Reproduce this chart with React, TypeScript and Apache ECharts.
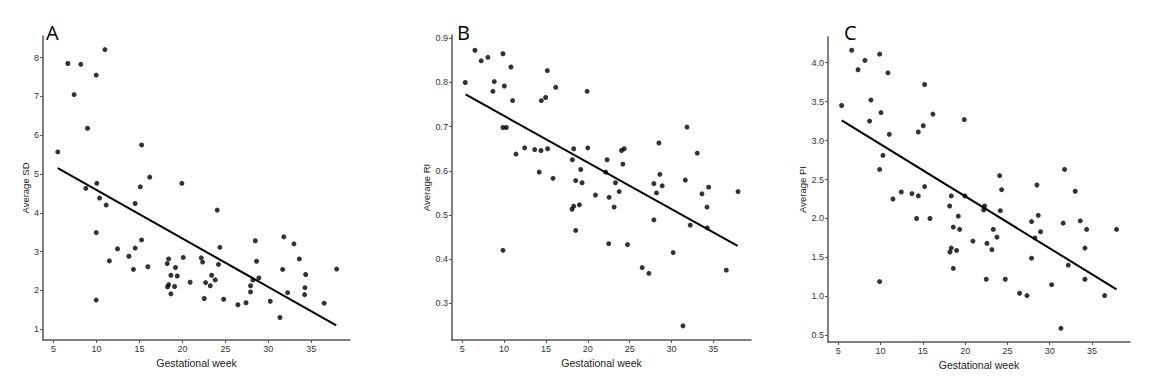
import React, { useEffect, useRef } from "react";
import * as echarts from "echarts";

// Panel A: Average SD vs gestational week
const sdPoints: number[][] = [
  [5.5, 5.57], [6.67, 7.85], [7.4, 7.05], [8.18, 7.83], [8.96, 6.18], [8.76, 4.63],
  [9.97, 7.55], [10.04, 4.76], [9.97, 3.49], [9.97, 1.75], [10.36, 4.38], [10.98, 8.21],
  [11.13, 4.2], [11.5, 2.76], [12.45, 3.07], [13.77, 2.88], [14.3, 2.54], [14.5, 3.09],
  [14.5, 4.24], [15.1, 4.67], [15.25, 5.75], [15.25, 3.3], [15.98, 2.61], [16.2, 4.92],
  [18.23, 2.69], [18.4, 2.81], [18.27, 2.09], [18.4, 2.15], [18.66, 2.39], [18.66, 1.91],
  [19.2, 2.59], [19.09, 2.1], [19.4, 2.37], [19.94, 4.76], [20.1, 2.85], [20.9, 2.21],
  [22.19, 2.84], [22.35, 2.73], [22.54, 1.79], [22.7, 2.2], [23.24, 2.12], [23.4, 2.39],
  [23.82, 2.27], [24.05, 4.07], [24.2, 2.67], [24.36, 3.11], [24.8, 1.77], [26.46, 1.63],
  [27.4, 1.68], [27.93, 1.96], [27.93, 2.12], [28.2, 2.27], [28.48, 3.28], [28.63, 2.75],
  [28.9, 2.32], [30.22, 1.72], [31.35, 1.3], [31.66, 2.54], [31.8, 3.38], [32.24, 1.94],
  [32.98, 3.2], [33.6, 2.81], [34.22, 1.89], [34.26, 2.07], [34.34, 2.41], [36.5, 1.67],
  [37.95, 2.55],
];
const sdFit: number[][] = [[5.5, 5.15], [37.9, 1.1]];

// Panel B: Average RI vs gestational week
const riPoints: number[][] = [
  [5.36, 0.8], [6.52, 0.873], [7.27, 0.849], [8.07, 0.857], [8.67, 0.78], [8.83, 0.802],
  [9.87, 0.865], [9.87, 0.698], [9.87, 0.42], [10.03, 0.792], [10.27, 0.698], [10.82, 0.835],
  [11.02, 0.759], [11.42, 0.638], [12.46, 0.652], [13.66, 0.648], [14.2, 0.597], [14.41, 0.646],
  [14.45, 0.759], [14.97, 0.766], [15.17, 0.827], [15.2, 0.65], [15.85, 0.583], [16.17, 0.789],
  [18.16, 0.625], [18.12, 0.513], [18.32, 0.52], [18.32, 0.65], [18.56, 0.465], [18.56, 0.578],
  [19.0, 0.523], [19.16, 0.603], [19.32, 0.573], [19.92, 0.78], [20.0, 0.652], [20.92, 0.545],
  [22.31, 0.625], [22.15, 0.597], [22.5, 0.435], [22.55, 0.54], [23.15, 0.518], [23.31, 0.573],
  [23.75, 0.553], [24.03, 0.646], [24.35, 0.65], [24.19, 0.615], [24.75, 0.433], [26.5, 0.381],
  [27.3, 0.368], [27.9, 0.571], [27.9, 0.489], [28.21, 0.55], [28.5, 0.663], [28.61, 0.592],
  [28.89, 0.566], [30.2, 0.415], [31.37, 0.249], [31.65, 0.579], [31.85, 0.699], [32.24, 0.477],
  [33.08, 0.64], [33.64, 0.548], [34.24, 0.518], [34.28, 0.471], [34.44, 0.563], [36.55, 0.375],
  [37.95, 0.553],
];
const riFit: number[][] = [[5.4, 0.773], [37.9, 0.43]];

// Panel C: Average PI vs gestational week
const piPoints: number[][] = [
  [5.39, 3.45], [6.58, 4.16], [7.33, 3.91], [8.15, 4.03], [8.86, 3.52], [8.7, 3.25],
  [9.89, 4.11], [10.05, 3.36], [9.89, 2.63], [9.89, 1.19], [10.28, 2.81], [10.87, 3.87],
  [11.03, 3.08], [11.46, 2.25], [12.45, 2.34], [13.71, 2.32], [14.26, 2.0], [14.46, 3.11],
  [14.46, 2.29], [15.05, 3.19], [15.21, 3.72], [15.21, 2.41], [15.84, 2.0], [16.19, 3.34],
  [18.17, 2.16], [18.2, 1.57], [18.36, 2.29], [18.36, 1.62], [18.6, 1.89], [18.6, 1.36],
  [18.99, 1.59], [19.19, 2.03], [19.35, 1.86], [19.9, 3.27], [19.98, 2.29], [20.92, 1.71],
  [22.19, 2.11], [22.3, 2.16], [22.5, 1.22], [22.58, 1.68], [23.17, 1.6], [23.33, 1.86],
  [23.76, 1.76], [24.08, 2.55], [24.16, 2.1], [24.31, 2.37], [24.75, 1.22], [26.44, 1.04],
  [27.31, 1.01], [27.86, 1.96], [27.86, 1.49], [28.26, 1.75], [28.49, 2.43], [28.65, 2.04],
  [28.92, 1.83], [30.23, 1.15], [31.33, 0.59], [31.6, 1.94], [31.76, 2.63], [32.2, 1.4],
  [33.02, 2.35], [33.62, 1.97], [34.17, 1.62], [34.17, 1.22], [34.37, 1.86], [36.5, 1.01],
  [37.91, 1.86],
];
const piFit: number[][] = [[5.4, 3.26], [37.9, 1.09]];

const xTicks = [5, 10, 15, 20, 25, 30, 35];
const sdTicks = [1, 2, 3, 4, 5, 6, 7, 8];
const riTicks = [0.3, 0.4, 0.5, 0.6, 0.7, 0.8, 0.9];
const piTicks = [0.5, 1.0, 1.5, 2.0, 2.5, 3.0, 3.5, 4.0];

const panelLetters = ["A", "B", "C"];
const yNames = ["Average SD", "Average RI", "Average PI"];
const xName = "Gestational week";

export default function App() {
  const ref = useRef<HTMLDivElement>(null);
  useEffect(() => {
    if (!ref.current) return;
    const chart = echarts.init(ref.current, undefined, { renderer: "svg" });
    const font = "Liberation Sans, Arial, sans-serif";
    const grids = [
      { left: 43, top: 36, width: 307, height: 304 },
      { left: 452, top: 35, width: 299, height: 305 },
      { left: 828, top: 37, width: 302, height: 305 },
    ];
    const yRanges = [
      [0.72, 8.56],
      [0.217, 0.9075],
      [0.414, 4.33],
    ];
    const yTickSets = [sdTicks, riTicks, piTicks];
    const yFmt = [
      (v: number) => String(Math.round(v)),
      (v: number) => v.toFixed(1),
      (v: number) => v.toFixed(1),
    ];
    const yNameGaps = [10, 19, 18];
    const pointSets = [sdPoints, riPoints, piPoints];
    const fitSets = [sdFit, riFit, piFit];
    const axisLine = { show: true, lineStyle: { color: "#555", width: 1.5 } };
    const axisTick = { show: true, length: 3, lineStyle: { color: "#555", width: 1 } };

    const xAxis = grids.map((_, i) => ({
      type: "value",
      gridIndex: i,
      min: 3.78,
      max: 39.5,
      name: xName,
      nameLocation: "middle",
      nameGap: 15,
      nameTextStyle: { fontFamily: font, fontSize: 10.5, color: "#222" },
      axisLine,
      axisTick: { ...axisTick, customValues: xTicks },
      axisLabel: {
        customValues: xTicks,
        fontFamily: font,
        fontSize: 9,
        color: "#333",
        margin: 4,
      },
      splitLine: { show: false },
    }));
    const yAxis = grids.map((_, i) => ({
      type: "value",
      gridIndex: i,
      min: yRanges[i][0],
      max: yRanges[i][1],
      name: yNames[i],
      nameLocation: "middle",
      nameGap: yNameGaps[i],
      nameRotate: 90,
      nameTextStyle: { fontFamily: font, fontSize: 9.5, color: "#222" },
      axisLine,
      axisTick: { ...axisTick, customValues: yTickSets[i] },
      axisLabel: {
        customValues: yTickSets[i],
        formatter: yFmt[i],
        fontFamily: font,
        fontSize: 9,
        color: "#333",
        margin: 4,
      },
      splitLine: { show: false },
    }));
    const series: any[] = [];
    pointSets.forEach((pts, i) => {
      series.push({
        type: "scatter",
        xAxisIndex: i,
        yAxisIndex: i,
        data: pts,
        symbolSize: 5,
        itemStyle: { color: "#000" },
        silent: true,
      });
      series.push({
        type: "line",
        xAxisIndex: i,
        yAxisIndex: i,
        data: fitSets[i],
        showSymbol: false,
        lineStyle: { color: "#000", width: 2 },
        silent: true,
      });
    });
    const titleLefts = [46, 457, 844];
    chart.setOption({
      animation: false,
      backgroundColor: "#fff",
      title: panelLetters.map((t, i) => ({
        text: t,
        left: titleLefts[i],
        top: 22,
        textStyle: { fontFamily: "Open Sans, sans-serif", fontSize: 20, fontWeight: "normal", color: "#000" },
        padding: 0,
      })),
      grid: grids,
      xAxis,
      yAxis,
      series,
    });
    return () => chart.dispose();
  }, []);
  return (
    <div
      ref={ref}
      style={{ position: "fixed", left: 0, top: 0, width: 1163, height: 382, background: "#fff" }}
    />
  );
}
